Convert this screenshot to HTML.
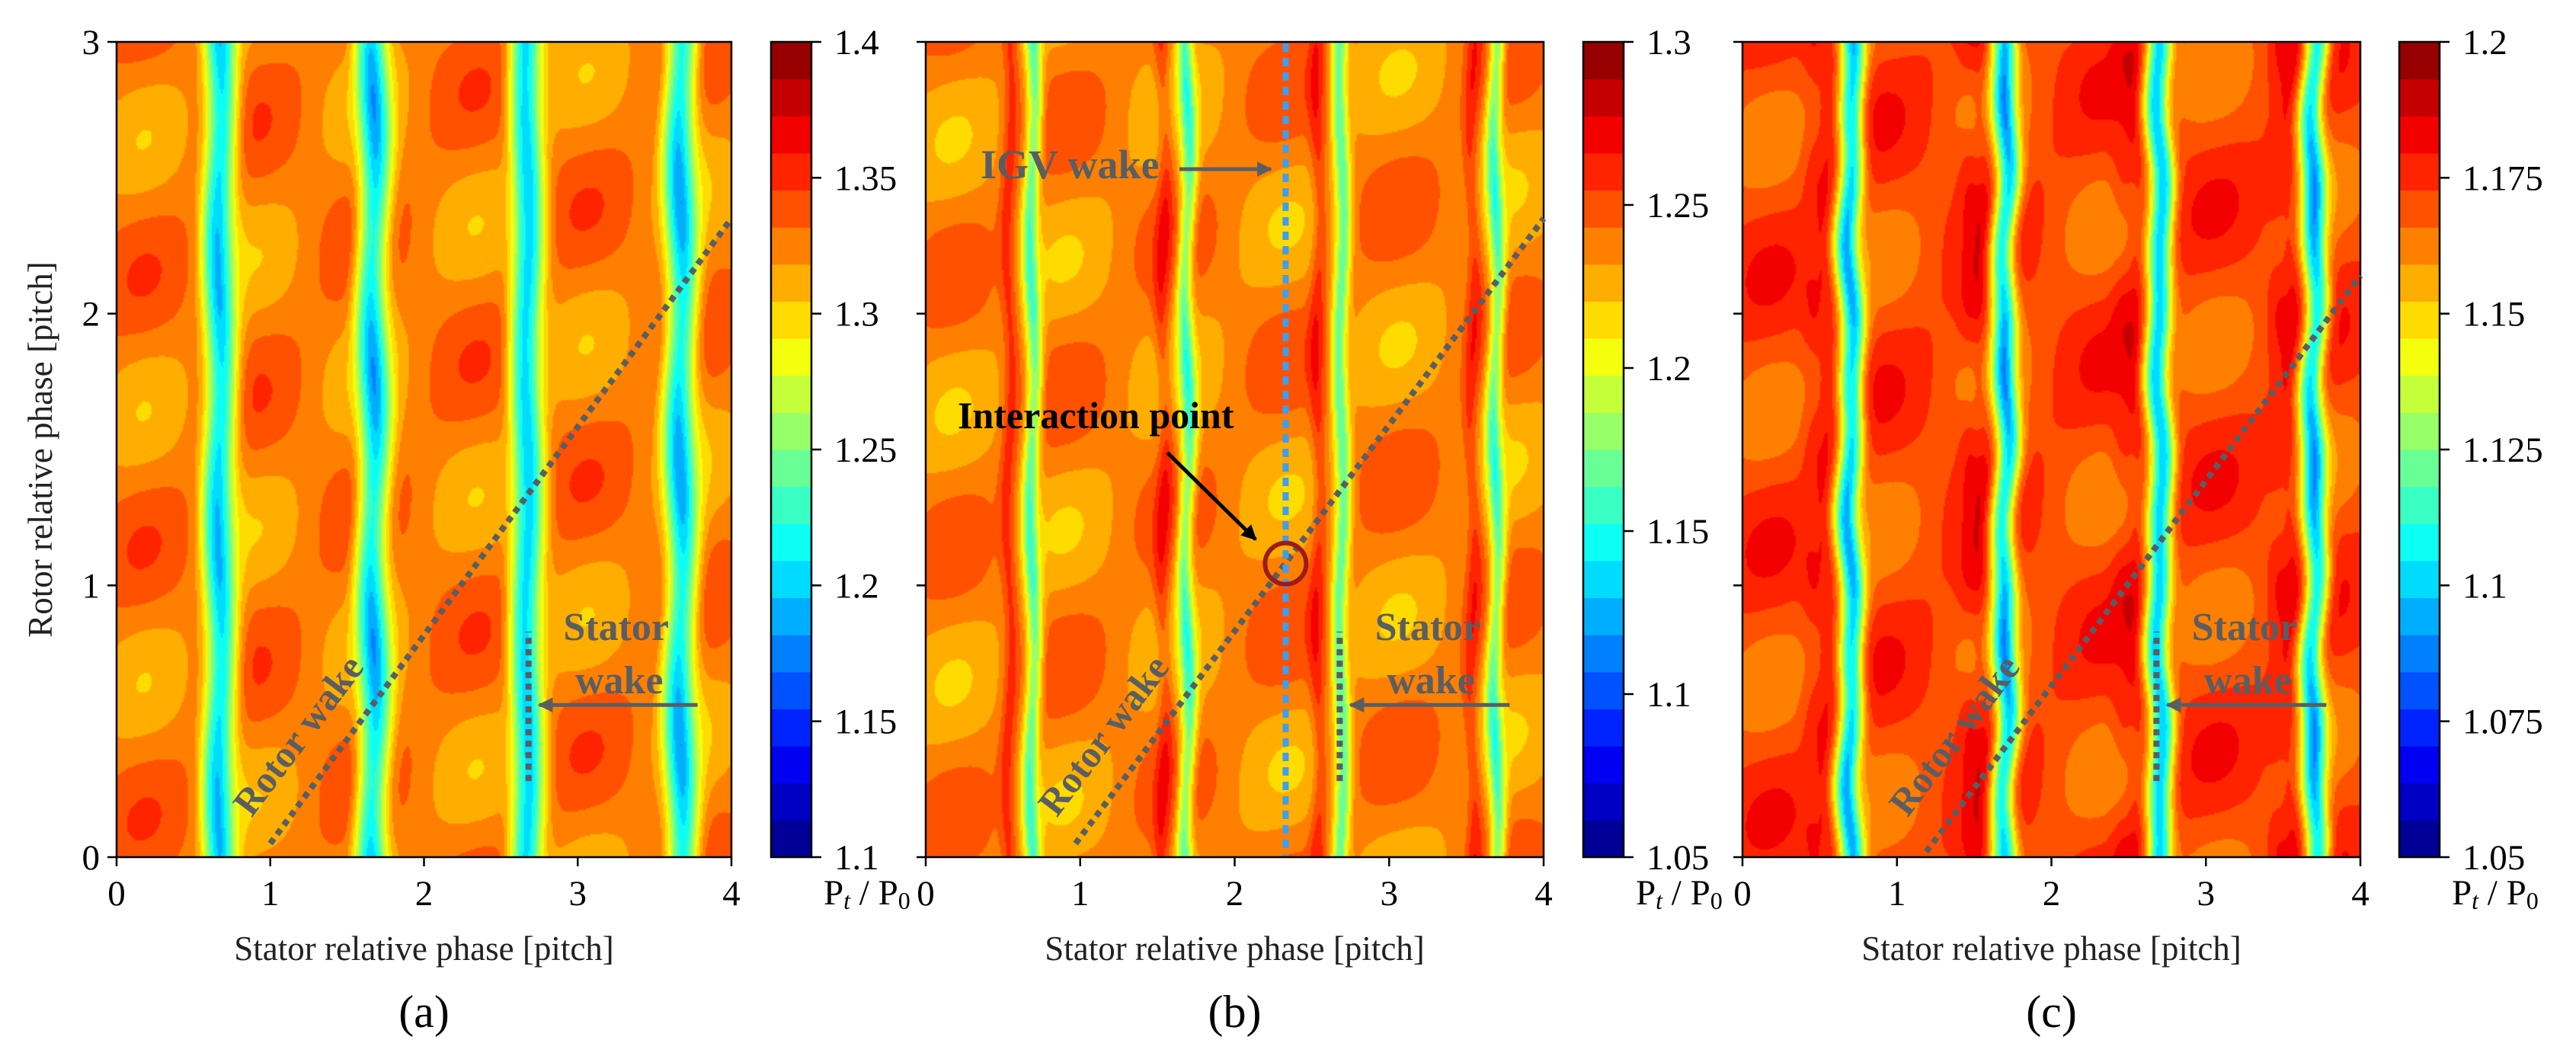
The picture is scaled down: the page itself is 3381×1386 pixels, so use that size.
<!DOCTYPE html>
<html><head><meta charset="utf-8">
<style>
html,body{margin:0;padding:0;background:#fff;}
#root{position:relative;width:3381px;height:1386px;overflow:hidden;background:#fff;}
canvas{position:absolute;image-rendering:auto;}
svg{position:absolute;left:0;top:0;}
text{font-family:"Liberation Serif",serif;}
</style></head>
<body>
<div id="root">
<canvas id="cva" width="406" height="535" style="left:153px;top:55px;width:807px;height:1070px"></canvas>
<canvas id="cvb" width="406" height="535" style="left:1215px;top:55px;width:811px;height:1070px"></canvas>
<canvas id="cvc" width="406" height="535" style="left:2287px;top:55px;width:811px;height:1070px"></canvas>
<svg id="ov" width="3381" height="1386"></svg>
</div>
<script>
// ---- data arrays ----
const xTicks = [0,1,2,3,4];
const yTicks = [0,1,2,3];
const cbTicksA = [1.1,1.15,1.2,1.25,1.3,1.35,1.4];
const cbTicksB = [1.05,1.1,1.15,1.2,1.25,1.3];
const cbTicksC = [1.05,1.075,1.1,1.125,1.15,1.175,1.2];
const cbLabelsA = ["1.1","1.15","1.2","1.25","1.3","1.35","1.4"];
const cbLabelsB = ["1.05","1.1","1.15","1.2","1.25","1.3"];
const cbLabelsC = ["1.05","1.075","1.1","1.125","1.15","1.175","1.2"];
const wakeCentersA = [0.67,1.67,2.67,3.67];
const wakeCentersB = [0.69,1.69,2.69,3.69];
const wakeCentersC = [0.70,1.70,2.70,3.70];
const baseLevels = [1.326,1.236,1.171];   // a, b, c background
const wakeDepths = [0.125,0.07,0.072];
const wakeWidths = [0.10,0.05,0.075];
const wakeWiggle = [0.018,0.018,0.018];
const blobAmps = [0.022,0.018,0.011];
const ridgeAmps = [0.004,0.022,0.006];
const rotorWakeA = [[1.0,0.05],[4.0,2.35]];
const rotorWakeB = [[0.97,0.05],[4.0,2.35]];
const rotorWakeC = [[1.19,0.02],[4.0,2.14]];
const statorWake = [2.68,0.28,0.83];
const igvWakeS = 2.33;
const interaction = [2.33,1.08];

const panels = [
 {id:'a',cv:'cva',x0:153,x1:960,wakes:wakeCentersA,vmin:1.1,vmax:1.4,ticks:cbTicksA,labels:cbLabelsA,cbx:1012,rw:rotorWakeA},
 {id:'b',cv:'cvb',x0:1215,x1:2026,wakes:wakeCentersB,vmin:1.05,vmax:1.3,ticks:cbTicksB,labels:cbLabelsB,cbx:2078,rw:rotorWakeB},
 {id:'c',cv:'cvc',x0:2287,x1:3098,wakes:wakeCentersC,vmin:1.05,vmax:1.2,ticks:cbTicksC,labels:cbLabelsC,cbx:3149,rw:rotorWakeC}
];
const Y0=55,Y1=1125,NLEV=22,CBW=53;

function jet(t){
  const r=Math.min(Math.max(Math.min(4*t-1.5,-4*t+4.5),0),1);
  const g=Math.min(Math.max(Math.min(4*t-0.5,-4*t+3.5),0),1);
  const b=Math.min(Math.max(Math.min(4*t+0.5,-4*t+2.5),0),1);
  return [Math.round(r*255),Math.round(g*255),Math.round(b*255)];
}
function sq(x){return x*x;}
function field(pi,s,r){
  const P=panels[pi];
  const TP=2*Math.PI;
  let v=baseLevels[pi];
  const A=blobAmps[pi];
  v+=A*(0.55*Math.cos(TP*(r-0.78*s))+0.45*Math.cos(TP*(s-0.25)+TP*(2*r-0.78*s)*0.5));
  if(pi===2){ v+=0.008*Math.pow(Math.max(0,Math.cos(TP*(s-0.47))),8)*(0.6+0.4*Math.cos(TP*2*r)); }
  for(const c of P.wakes){
    const cc=c+wakeWiggle[pi]*Math.sin(TP*(r-0.78*c))+(pi===2?0.012*Math.cos(TP*2*r):0);
    const d=s-cc;
    const dd=Math.min(Math.abs(d),Math.abs(d+4),Math.abs(d-4));
    v-=wakeDepths[pi]*Math.exp(-sq(dd/wakeWidths[pi]));
    const dr=d+0.15;
    v+=ridgeAmps[pi]*Math.exp(-sq(dr/0.05));
  }
  return v;
}
panels.forEach((P,pi)=>{
  const cv=document.getElementById(P.cv),ctx=cv.getContext('2d');
  const W=cv.width,H=cv.height,img=ctx.createImageData(W,H);
  for(let j=0;j<H;j++){const r=3*(1-(j+0.5)/H);
    for(let i=0;i<W;i++){const s=4*(i+0.5)/W;
      const v=field(pi,s,r);
      let k=Math.floor((v-P.vmin)/(P.vmax-P.vmin)*NLEV);k=Math.max(0,Math.min(NLEV-1,k));
      const c=jet((k+0.5)/NLEV);const o=(j*W+i)*4;
      img.data[o]=c[0];img.data[o+1]=c[1];img.data[o+2]=c[2];img.data[o+3]=255;}}
  ctx.putImageData(img,0,0);
});

const NS='http://www.w3.org/2000/svg',svg=document.getElementById('ov');
function el(tag,attrs,parent){const e=document.createElementNS(NS,tag);for(const k in attrs)e.setAttribute(k,attrs[k]);(parent||svg).appendChild(e);return e;}
function txt(str,attrs,parent){const e=el('text',attrs,parent);e.textContent=str;return e;}
const defs=el('defs',{});
const mk=el('marker',{id:'ag',viewBox:'0 0 10 10',refX:'9',refY:'5',markerWidth:'4',markerHeight:'4',orient:'auto'},defs);
el('path',{d:'M0,0 L10,5 L0,10 z',fill:'#5a5e63'},mk);
const mk2=el('marker',{id:'ak',viewBox:'0 0 10 10',refX:'9',refY:'5',markerWidth:'4',markerHeight:'4',orient:'auto'},defs);
el('path',{d:'M0,0 L10,5 L0,10 z',fill:'#000'},mk2);
const GRAY='#5a5e63';

panels.forEach((P,pi)=>{
  const sx=s=>P.x0+(P.x1-P.x0)*s/4, sy=r=>Y1-(Y1-Y0)*r/3;
  const g=el('g',{});
  
  
  const fr=el('rect',{x:P.x0,y:Y0,width:P.x1-P.x0,height:Y1-Y0,fill:'none',stroke:'#000','stroke-width':2.5},g);
  
  
  xTicks.forEach(t=>{
    el('line',{x1:sx(t),x2:sx(t),y1:Y1,y2:Y1+12,stroke:'#000','stroke-width':2.5},g);
    const l=txt(String(t),{x:sx(t),y:Y1+63,'font-size':47,'text-anchor':'middle'},g);
    
    
  });
  yTicks.forEach(t=>{
    el('line',{x1:P.x0-12,x2:P.x0,y1:sy(t),y2:sy(t),stroke:'#000','stroke-width':2.5},g);
    if(pi===0){const l=txt(String(t),{x:P.x0-22,y:sy(t)+16,'font-size':47,'text-anchor':'end'},g);
      
      }
  });
  const xt=txt('Stator relative phase [pitch]',{x:(P.x0+P.x1)/2,y:1260,'font-size':45,'text-anchor':'middle',fill:'#222'},g);
  
  
  const pl=txt('('+P.id+')',{x:(P.x0+P.x1)/2,y:1348,'font-size':60,'text-anchor':'middle'},g);
  
  
  const cb=el('g',{},g);
  
  
  const bh=(Y1-Y0)/NLEV;
  for(let k=0;k<NLEV;k++){const c=jet((k+0.5)/NLEV);
    el('rect',{x:P.cbx,y:Y1-(k+1)*bh,width:CBW,height:bh+0.6,fill:'rgb('+c.join(',')+')'},cb);}
  el('rect',{x:P.cbx,y:Y0,width:CBW,height:Y1-Y0,fill:'none',stroke:'#000','stroke-width':2.5},cb);
  P.ticks.forEach((t,i)=>{const y=Y1-(Y1-Y0)*(t-P.vmin)/(P.vmax-P.vmin);
    el('line',{x1:P.cbx+CBW,x2:P.cbx+CBW+13,y1:y,y2:y,stroke:'#000','stroke-width':2.5},cb);
    const l=txt(P.labels[i],{x:P.cbx+CBW+30,y:y+16,'font-size':47},cb);
    
    });
  const cl=el('text',{x:P.cbx+CBW+16,y:1187,'font-size':47},cb);
  cl.innerHTML='P<tspan font-style="italic" font-size="32" dy="6">t</tspan><tspan dy="-6"> / P</tspan><tspan font-size="32" dy="6">0</tspan>';
  
  
  const rw=el('line',{x1:sx(P.rw[0][0]),y1:sy(P.rw[0][1]),x2:sx(P.rw[1][0]),y2:sy(P.rw[1][1]),stroke:GRAY,'stroke-width':8,'stroke-dasharray':'8 7'},g);
  
  
  const rt=txt('Rotor wake',{x:0,y:0,'font-size':50,'font-weight':'bold',fill:GRAY,'text-anchor':'middle',transform:'translate('+(sx(P.rw[0][0])+50)+',975) rotate(-53)'},g);
  
  
  const sw=el('line',{x1:sx(statorWake[0]),x2:sx(statorWake[0]),y1:sy(statorWake[1]),y2:sy(statorWake[2]),stroke:GRAY,'stroke-width':8,'stroke-dasharray':'8 7'},g);
  
  
  const st=txt('Stator',{x:sx(3.25),y:840,'font-size':52,'font-weight':'bold',fill:GRAY,'text-anchor':'middle'},g);
  
  
  txt('wake',{x:sx(3.27),y:910,'font-size':52,'font-weight':'bold',fill:GRAY,'text-anchor':'middle'},g);
  const sa=el('line',{x1:sx(3.78),x2:sx(statorWake[0])+14,y1:sy(0.56),y2:sy(0.56),stroke:GRAY,'stroke-width':5,'marker-end':'url(#ag)'},g);
  
  
  if(pi===1){
    const ig=el('line',{x1:sx(igvWakeS),x2:sx(igvWakeS),y1:Y0+2,y2:Y1-2,stroke:'#3f9ef0','stroke-width':8,'stroke-dasharray':'11 8'},g);
    
    
    const it=txt('IGV wake',{x:1287,y:234,'font-size':54,'font-weight':'bold',fill:GRAY},g);
    
    
    el('line',{x1:1548,x2:1668,y1:222,y2:222,stroke:GRAY,'stroke-width':5,'marker-end':'url(#ag)'},g);
    const ip=txt('Interaction point',{x:1257,y:562,'font-size':50,'font-weight':'bold',fill:'#000'},g);
    
    
    el('line',{x1:1532,y1:594,x2:1648,y2:708,stroke:'#000','stroke-width':5,'marker-end':'url(#ak)'},g);
    const ci=el('circle',{cx:sx(interaction[0]),cy:sy(interaction[1]),r:27,fill:'none',stroke:'#9b1c1c','stroke-width':6},g);
    
    
  }
});
const yl=txt('Rotor relative phase [pitch]',{x:0,y:0,'font-size':45,'text-anchor':'middle',fill:'#222',transform:'translate(68,590) rotate(-90)'});


</script>
</body></html>
